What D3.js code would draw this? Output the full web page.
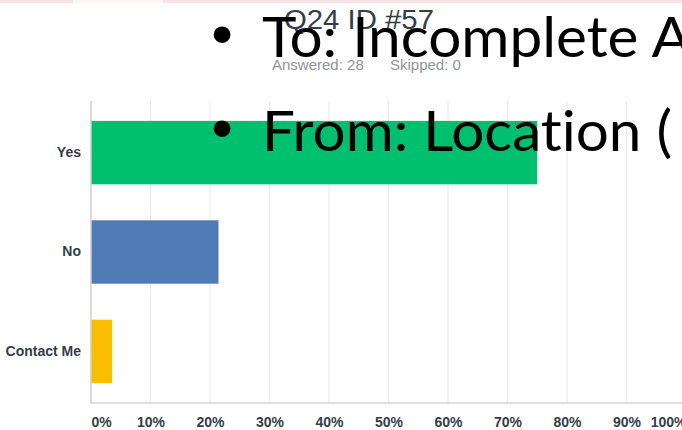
<!DOCTYPE html>
<html>
<head>
<meta charset="utf-8">
<script src="https://cdn.jsdelivr.net/npm/d3@7"></script>
<style>
  html, body { margin: 0; padding: 0; background: #ffffff; overflow: hidden; }
  svg { display: block; }
  .bullet-line { font-variant-ligatures: none; font-feature-settings: "liga" 0, "clig" 0; }
</style>
</head>
<body>
<svg id="chart" width="682" height="430"></svg>
<script>
// Survey question: share of respondents per answer choice (percent)
const categories = ["Yes", "No", "Contact Me"];
const percents = [75.0, 21.43, 3.57];
const barColors = ["#00bf6f", "#507cb6", "#f9be00"];
const tickValues = [0, 10, 20, 30, 40, 50, 60, 70, 80, 90, 100];
const tickLabels = ["0%", "10%", "20%", "30%", "40%", "50%", "60%", "70%", "80%", "90%", "100%"];

const questionTitle = "Q24 ID #57";
const answered = 28;
const skipped = 0;

// Slide bullet text laid over the chart
const bulletLines = ["To: Incomplete A", "From: Location ("];

const svg = d3.select("#chart");
const W = 682, H = 430;

// thin header band along the top edge
svg.append("rect").attr("x", 0).attr("y", 0).attr("width", W).attr("height", 3).attr("fill", "#f5e3e6");
svg.append("rect").attr("x", 73).attr("y", 0).attr("width", 90).attr("height", 3).attr("fill", "#fbf3f4");

const plot = { left: 91, top: 101, bottom: 403 };

const x = d3.scaleLinear().domain([0, 100]).range([plot.left, 686]);
const y = d3.scaleBand().domain(categories).range([plot.top, plot.bottom])
  .paddingInner(0.362).paddingOuter(0.2);

// vertical gridlines
svg.append("g").selectAll("line").data(tickValues.slice(1)).join("line")
  .attr("x1", d => x(d)).attr("x2", d => x(d))
  .attr("y1", plot.top).attr("y2", plot.bottom)
  .attr("stroke", "#e9e9e9").attr("stroke-width", 1);

// bars
svg.append("g").selectAll("rect").data(categories).join("rect")
  .attr("x", x(0))
  .attr("y", d => y(d))
  .attr("width", (d, i) => x(percents[i]) - x(0))
  .attr("height", y.bandwidth())
  .attr("fill", (d, i) => barColors[i]);

// axis frame lines
svg.append("line").attr("x1", plot.left).attr("x2", plot.left)
  .attr("y1", plot.top).attr("y2", plot.bottom + 0.5)
  .attr("stroke", "#cfcfcf").attr("stroke-width", 1.5);
svg.append("line").attr("x1", plot.left).attr("x2", W)
  .attr("y1", plot.bottom).attr("y2", plot.bottom)
  .attr("stroke", "#d4d4d4").attr("stroke-width", 1.5);

// category axis
const yAxis = svg.append("g").attr("transform", `translate(${plot.left},0)`)
  .call(d3.axisLeft(y).tickSize(0).tickPadding(10));
yAxis.select(".domain").remove();
yAxis.selectAll("text")
  .attr("font-family", "'Liberation Sans', Arial, sans-serif")
  .attr("font-weight", "bold").attr("font-size", 14)
  .attr("fill", "#333e48");

// percent axis
const xAxis = svg.append("g").attr("transform", `translate(0,${plot.bottom})`)
  .call(d3.axisBottom(x).tickValues(tickValues)
    .tickFormat((d, i) => tickLabels[i]).tickSize(0).tickPadding(14));
xAxis.select(".domain").remove();
xAxis.selectAll("text")
  .attr("font-family", "'Liberation Sans', Arial, sans-serif")
  .attr("font-weight", "bold").attr("font-size", 14)
  .attr("fill", "#333e48")
  .attr("text-anchor", (d, i) => i === 0 ? "start" : (i === tickValues.length - 1 ? "end" : "middle"));

// question header
svg.append("text").attr("x", 359).attr("y", 29).attr("text-anchor", "middle")
  .attr("font-family", "'Liberation Sans', Arial, sans-serif")
  .attr("font-size", 27).attr("fill", "#333e48")
  .attr("textLength", 150).attr("lengthAdjust", "spacingAndGlyphs")
  .text(questionTitle);
svg.append("text").attr("x", 272).attr("y", 70)
  .attr("font-family", "'Liberation Sans', Arial, sans-serif")
  .attr("font-size", 15).attr("fill", "#8d949b")
  .text(`Answered: ${answered}`);
svg.append("text").attr("x", 390).attr("y", 70)
  .attr("font-family", "'Liberation Sans', Arial, sans-serif")
  .attr("font-size", 15).attr("fill", "#8d949b")
  .text(`Skipped: ${skipped}`);

// bullet lines on top
const baselines = [57, 151];
const lineLengths = [429, 410];
bulletLines.forEach((t, i) => {
  svg.append("text").attr("x", 222).attr("y", baselines[i] - 2)
    .attr("text-anchor", "middle")
    .attr("font-family", "'Liberation Sans', Arial, sans-serif")
    .attr("font-size", 62).attr("fill", "#000")
    .text("\u2022");
  svg.append("text").attr("class", "bullet-line")
    .attr("x", 262).attr("y", baselines[i])
    .attr("font-family", "Lato, 'Open Sans', sans-serif")
    .attr("font-size", 56).attr("fill", "#000")
    .attr("textLength", lineLengths[i]).attr("lengthAdjust", "spacingAndGlyphs")
    .text(t);
});
</script>
</body>
</html>
